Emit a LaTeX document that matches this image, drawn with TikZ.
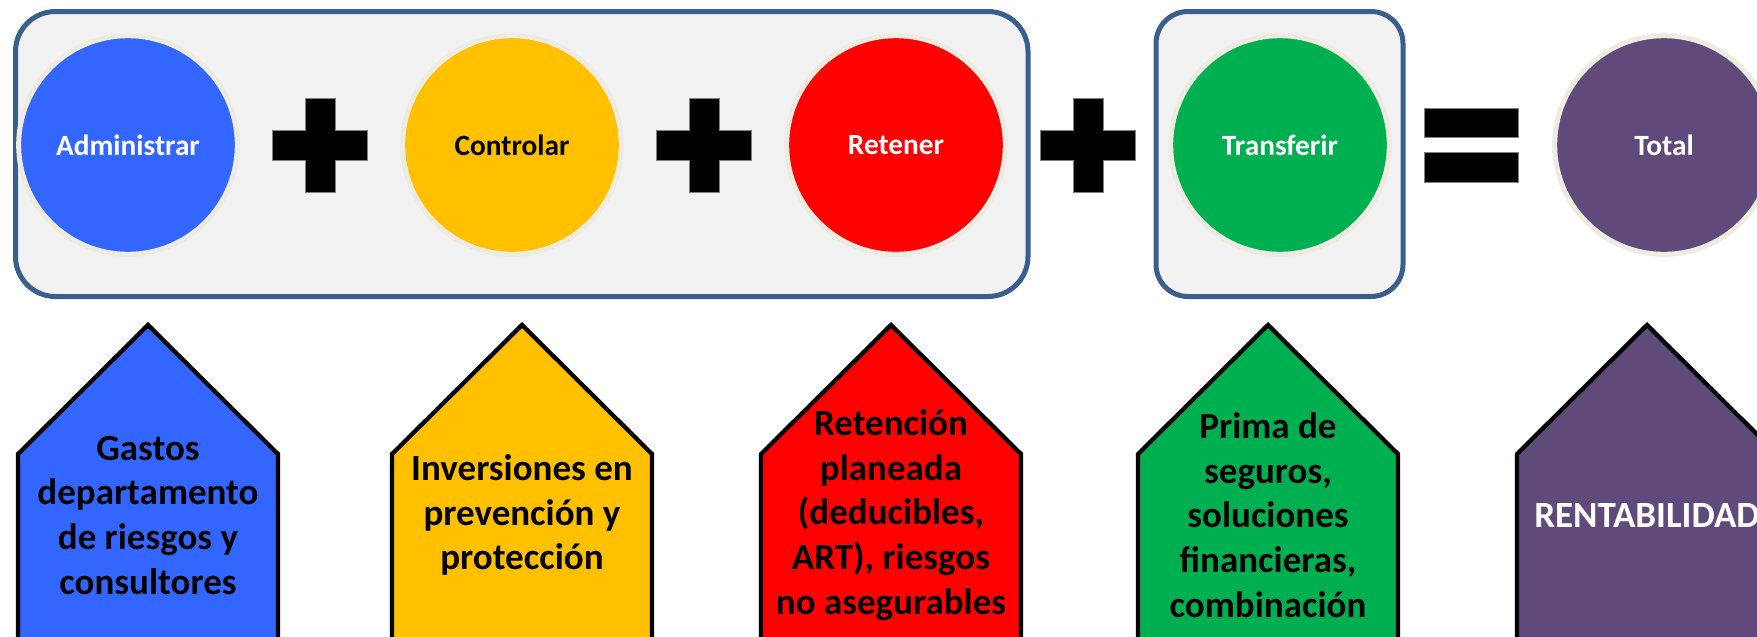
\documentclass[tikz,border=0pt]{standalone}
\usepackage{fontspec}
\setmainfont{Carlito}
\usepackage{tikz}
\definecolor{azul}{HTML}{3366FF}
\definecolor{amarillo}{HTML}{FFC000}
\definecolor{rojo}{HTML}{FF0000}
\definecolor{verde}{HTML}{00B050}
\definecolor{morado}{HTML}{604A7B}
\definecolor{fondo}{HTML}{F2F2F2}
\definecolor{borde}{HTML}{3A5F8C}
\definecolor{crema}{HTML}{EEECE1}

\begin{document}
\begin{tikzpicture}
    [x=0.75pt, y=-0.75pt,
    marco/.style={draw=borde, line width=3.75pt, fill=fondo, rounded corners=30pt},
    bola/.style={circle, draw=crema, line width=3.75pt, minimum size=164pt,
      inner sep=0pt, font=\fontsize{22}{26}\selectfont\bfseries},
    casa/.style={draw=black, line width=3.2pt, line join=miter},
    texto/.style={align=center, font=\fontsize{27.75}{33.5}\selectfont\bfseries},
    signo/.style={fill=black, draw=gray, line width=0.4pt}]
    \useasboundingbox (0,0) rectangle (1757,636);
    \clip (0,0) rectangle (1757,636);
    \draw[marco] (15.5,11.5) rectangle (1028,296.5);
    \draw[marco, rounded corners=24pt] (1156,11.5) rectangle (1403,296.5);
    \node[bola, fill=azul, text=white] (adm) at (128,145) {Administrar};
    \node[bola, fill=amarillo, text=black] (ctl) at (512,145) {Controlar};
    \node[bola, fill=rojo, text=white] (ret) at (896,145) {Retener};
    \node[bola, fill=verde, text=white] (tra) at (1280,145) {Transferir};
    \node[bola, fill=morado, text=white] (tot) at (1664,145) {Total};
    \draw[signo] (305,98) -- ++(30,0) -- ++(0,32) -- ++(32.5,0) -- ++(0,30) -- ++(-32.5,0)
      -- ++(0,32) -- ++(-30,0) -- ++(0,-32) -- ++(-32.5,0) -- ++(0,-30) -- ++(32.5,0) -- cycle;
    \draw[signo] (689,98) -- ++(30,0) -- ++(0,32) -- ++(32.5,0) -- ++(0,30) -- ++(-32.5,0)
      -- ++(0,32) -- ++(-30,0) -- ++(0,-32) -- ++(-32.5,0) -- ++(0,-30) -- ++(32.5,0) -- cycle;
    \draw[signo] (1073,98) -- ++(30,0) -- ++(0,32) -- ++(32.5,0) -- ++(0,30) -- ++(-32.5,0)
      -- ++(0,32) -- ++(-30,0) -- ++(0,-32) -- ++(-32.5,0) -- ++(0,-30) -- ++(32.5,0) -- cycle;
    \draw[signo] (1424,108) rectangle (1518,137);
    \draw[signo] (1424,152) rectangle (1518,182);
    \draw[casa, fill=azul] (18,700) -- (18,454) -- (148,325) -- (278,454) -- (278,700);
    \draw[casa, fill=amarillo] (392,700) -- (392,454) -- (522,325) -- (652,454) -- (652,700);
    \draw[casa, fill=rojo] (761,700) -- (761,454) -- (891,325) -- (1021,454) -- (1021,700);
    \draw[casa, fill=verde] (1138,700) -- (1138,454) -- (1268,325) -- (1398,454) -- (1398,700);
    \draw[casa, fill=morado] (1517,700) -- (1517,454) -- (1647,325) -- (1777,454) -- (1777,700);
    \node[texto] (gastos) at (148,515) {Gastos\\departamento\\de riesgos y\\consultores};
    \node[texto] (inversiones) at (522,515) {Inversiones en\\prevención y\\protección};
    \node[texto] (retencion) at (891,515) {Retención\\planeada\\(deducibles,\\ART), riesgos\\no asegurables};
    \node[texto] (prima) at (1268,515) {Prima de\\seguros,\\soluciones\\financieras,\\combinación};
    \node[texto, text=white] (renta) at (1647,515) {RENTABILIDAD};
  \end{tikzpicture}
\end{document}
